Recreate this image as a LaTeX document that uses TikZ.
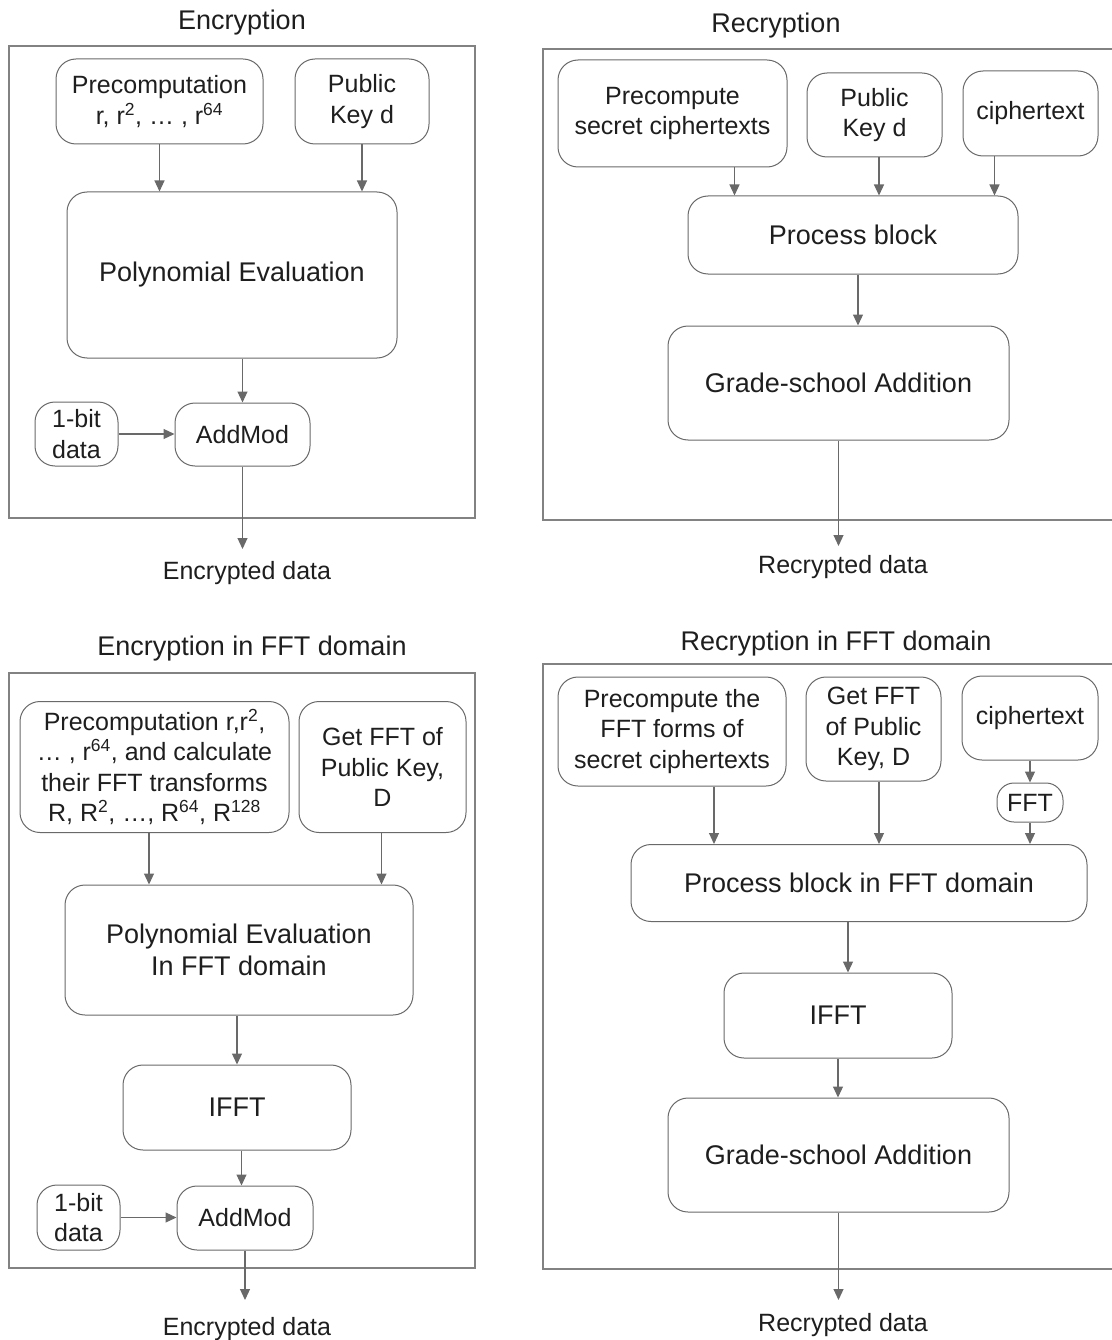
\documentclass[tikz,border=0pt]{standalone}
\usepackage{fontspec}
\setmainfont{Liberation Sans}
\usetikzlibrary{arrows.meta}
\definecolor{ink}{RGB}{30,30,30}
\definecolor{edge}{RGB}{105,105,105}
\definecolor{frame}{RGB}{130,130,130}

\begin{document}
\begin{tikzpicture}[
  x=1pt, y=-1pt,
  >={Triangle[length=11pt,width=10pt]},
  line/.style={->, edge, line width=1.1pt},
  box/.style={
    draw=edge, line width=1pt, rounded corners=20pt,
    align=center, text=ink, inner sep=2pt,
    font=\fontsize{25}{30.5}\selectfont
  },
  bigbox/.style={box, font=\fontsize{27}{32}\selectfont},
  panel/.style={draw=frame, line width=1.2pt},
  title/.style={text=ink, font=\fontsize{27}{32}\selectfont},
  outlabel/.style={text=ink, font=\fontsize{25}{30}\selectfont}
]
\useasboundingbox (0,0) rectangle (1111,1340);

% --- Encryption ---
\node[title] (t1) at (242,23) {Encryption};
\draw[panel] (9,46) rectangle (475,518);
\node[box, minimum width=207, minimum height=85] (pre1) at (159.5,101.5)
  {Precomputation\\ r, r\textsuperscript{2}, … , r\textsuperscript{64}};
\node[box, minimum width=134, minimum height=85] (key1) at (362,101.5)
  {Public\\Key d};
\node[bigbox, minimum width=330, minimum height=166] (poly1) at (232,275)
  {Polynomial Evaluation};
\node[box, minimum width=135, minimum height=63] (add1) at (242.5,434.5)
  {AddMod};
\node[box, minimum width=83, minimum height=64] (bit1) at (76.5,434)
  {1-bit\\data};
\coordinate (out1) at (242.5,549);
\node[outlabel] (lab1) at (247,573) {Encrypted data};

\draw[line] (pre1.south) -- (pre1.south |- poly1.north);
\draw[line] (key1.south) -- (key1.south |- poly1.north);
\draw[line] (poly1.south -| add1.north) -- (add1.north);
\draw[line] (bit1.east) -- (bit1.east -| add1.west);
\draw[line] (add1.south) -- (out1);

% --- Recryption ---
\node[title] (t2) at (776,26) {Recryption};
\draw[panel] (1112,49) -- (543,49) -- (543,520) -- (1112,520);
\node[box, minimum width=229, minimum height=107] (pre2) at (672.5,113.5)
  {Precompute\\secret ciphertexts};
\node[box, minimum width=135, minimum height=84] (key2) at (874.5,115)
  {Public\\Key d};
\node[box, minimum width=135, minimum height=85] (cip2) at (1030.5,113.5)
  {ciphertext};
\node[bigbox, minimum width=330, minimum height=78] (proc2) at (853,235)
  {Process block};
\node[bigbox, minimum width=341, minimum height=114] (grade2) at (838.5,383)
  {Grade-school Addition};
\coordinate (out2) at (838.5,546);
\node[outlabel] (lab2) at (843,567) {Recrypted data};

\draw[line] ([xshift=62]pre2.south) -- ([xshift=62]pre2.south |- proc2.north);
\draw[line] ([xshift=4.5]key2.south) -- ([xshift=4.5]key2.south |- proc2.north);
\draw[line] ([xshift=-36]cip2.south) -- ([xshift=-36]cip2.south |- proc2.north);
\draw[line] ([xshift=5]proc2.south) -- ([xshift=5]proc2.south |- grade2.north);
\draw[line] (grade2.south) -- (out2);

% --- Encryption in FFT domain ---
\node[title] (t3) at (252,649) {Encryption in FFT domain};
\draw[panel] (9,673) rectangle (475,1268);
\node[box, minimum width=269, minimum height=131] (pre3) at (154.5,767)
  {Precomputation r,r\textsuperscript{2},\\
   … , r\textsuperscript{64}, and calculate\\
   their FFT transforms\\
   R, R\textsuperscript{2}, …, R\textsuperscript{64}, R\textsuperscript{128}};
\node[box, minimum width=167, minimum height=131] (key3) at (382.5,767)
  {Get FFT of\\Public Key,\\D};
\node[bigbox, minimum width=348, minimum height=130] (poly3) at (239,950)
  {Polynomial Evaluation\\In FFT domain};
\node[bigbox, minimum width=228, minimum height=85] (ifft3) at (237,1107.5)
  {IFFT};
\node[box, minimum width=136, minimum height=64] (add3) at (245,1218)
  {AddMod};
\node[box, minimum width=83, minimum height=65] (bit3) at (78.5,1217.5)
  {1-bit\\data};
\coordinate (out3) at (245,1300);
\node[outlabel] (lab3) at (247,1329) {Encrypted data};

\draw[line] ([xshift=-5.5]pre3.south) -- ([xshift=-5.5]pre3.south |- poly3.north);
\draw[line] ([xshift=-1]key3.south) -- ([xshift=-1]key3.south |- poly3.north);
\draw[line] (poly3.south -| ifft3.north) -- (ifft3.north);
\draw[line] ([xshift=4.5]ifft3.south) -- ([xshift=4.5]ifft3.south |- add3.north);
\draw[line] (bit3.east) -- (bit3.east -| add3.west);
\draw[line] (add3.south) -- (out3);

% --- Recryption in FFT domain ---
\node[title] (t4) at (836,644) {Recryption in FFT domain};
\draw[panel] (1112,664) -- (543,664) -- (543,1269) -- (1112,1269);
\node[box, minimum width=228, minimum height=109] (pre4) at (672,731.5)
  {Precompute the\\FFT forms of\\secret ciphertexts};
\node[box, minimum width=135, minimum height=104] (key4) at (873.5,729)
  {Get FFT\\of Public\\Key, D};
\node[box, minimum width=136, minimum height=84] (cip4) at (1030,718)
  {ciphertext};
\node[box, rounded corners=17pt, minimum width=66, minimum height=39,
  inner sep=1pt] (fft4) at (1030,802.5) {FFT};
\node[bigbox, minimum width=456, minimum height=77] (proc4) at (859,883)
  {Process block in FFT domain};
\node[bigbox, minimum width=228, minimum height=85] (ifft4) at (838,1015.5)
  {IFFT};
\node[bigbox, minimum width=341, minimum height=114] (grade4) at (838.5,1155)
  {Grade-school Addition};
\coordinate (out4) at (838.5,1300);
\node[outlabel] (lab4) at (843,1325) {Recrypted data};

\draw[line] ([xshift=42]pre4.south) -- ([xshift=42]pre4.south |- proc4.north);
\draw[line] ([xshift=5.5]key4.south) -- ([xshift=5.5]key4.south |- proc4.north);
\draw[line] (cip4.south) -- (fft4.north);
\draw[line] (fft4.south) -- (fft4.south |- proc4.north);
\draw[line] ([xshift=-11]proc4.south) -- ([xshift=-11]proc4.south |- ifft4.north);
\draw[line] (ifft4.south) -- (ifft4.south |- grade4.north);
\draw[line] (grade4.south) -- (out4);

\end{tikzpicture}
\end{document}
